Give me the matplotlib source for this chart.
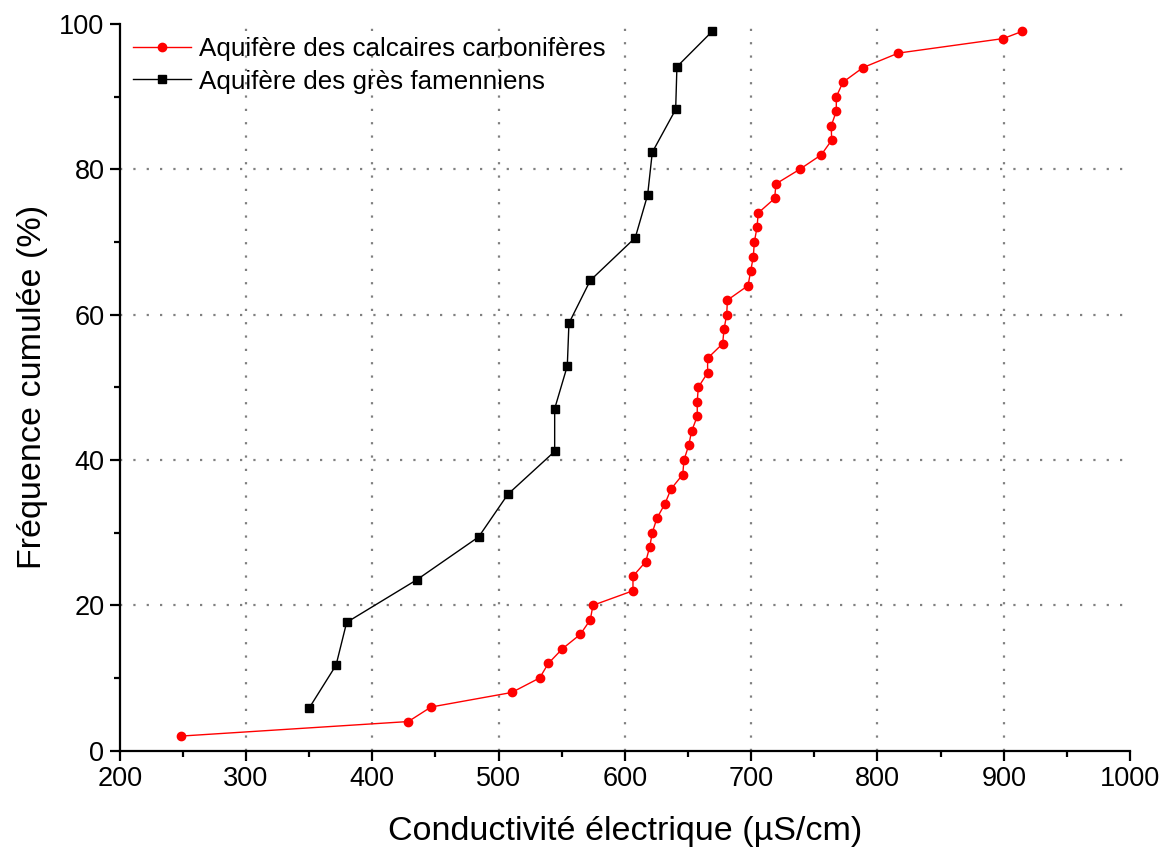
import numpy as np
import matplotlib
matplotlib.use("Agg")
import matplotlib.pyplot as plt
from matplotlib.ticker import MultipleLocator

plt.rcParams['font.family'] = ['Liberation Sans', 'DejaVu Sans']

# Aquifère des calcaires carbonifères
calc_x = [248.5, 428.5, 446.5, 510.4, 532.5, 539.4, 550.4, 564.7, 572.6, 574.7,
          606.4, 606.4, 616.5, 619.6, 621.7, 625.4, 631.8, 636.5, 645.8, 646.8,
          650.5, 652.9, 657.3, 657.3, 658.1, 665.5, 665.5, 677.4, 678.5, 680.6,
          681.2, 697.5, 699.6, 701.7, 702.5, 704.6, 705.6, 718.6, 719.6, 738.4,
          755.5, 763.7, 763.4, 767.4, 767.4, 772.7, 788.5, 816.5, 899.6, 914.7]
calc_y = [2, 4, 6, 8, 10, 12, 14, 16, 18, 20,
          22, 24, 26, 28, 30, 32, 34, 36, 38, 40,
          42, 44, 46, 48, 50, 52, 54, 56, 58, 60,
          62, 64, 66, 68, 70, 72, 74, 76, 78, 80,
          82, 84, 86, 88, 90, 92, 94, 96, 98, 99]

# Aquifère des grès famenniens
gres_x = [350.1, 371.3, 379.7, 435.4, 484.2, 507.4, 544.4, 544.4, 554.4,
          555.7, 572.6, 608.2, 618.0, 621.7, 640.2, 641.2, 669.2]
gres_y = [5.88, 11.76, 17.65, 23.53, 29.41, 35.29, 41.18, 47.06, 52.94,
          58.82, 64.71, 70.59, 76.47, 82.35, 88.24, 94.12, 99.0]

fig = plt.figure(figsize=(11.69, 8.52), dpi=100)
ax = fig.add_axes([0.1024, 0.119, 0.8643, 0.8528])

ax.plot(calc_x, calc_y, color='#ff0000', lw=1.0, marker='o', ms=6,
        label='Aquifère des calcaires carbonifères', zorder=3)
ax.plot(gres_x, gres_y, color='#000000', lw=1.0, marker='s', ms=5.5,
        label='Aquifère des grès famenniens', zorder=3)

ax.set_xlim(200, 1000)
ax.set_ylim(0, 100)
ax.xaxis.set_major_locator(MultipleLocator(100))
ax.xaxis.set_minor_locator(MultipleLocator(50))
ax.yaxis.set_major_locator(MultipleLocator(20))
ax.yaxis.set_minor_locator(MultipleLocator(10))

for t in [300, 400, 500, 600, 700, 800, 900]:
    ax.axvline(t, color='#808080', lw=1.6, ls=(0, (1, 5)), zorder=1)
for t in [20, 40, 60, 80]:
    ax.axhline(t, color='#808080', lw=1.6, ls=(0, (1, 5)), zorder=1)

ax.spines['top'].set_visible(False)
ax.spines['right'].set_visible(False)
ax.spines['left'].set_linewidth(1.6)
ax.spines['bottom'].set_linewidth(1.6)
ax.tick_params(which='major', direction='out', length=7, width=1.6,
               labelsize=19.5, pad=4)
ax.tick_params(which='minor', direction='out', length=4, width=1.6)

ax.set_xlabel('Conductivité électrique (µS/cm)', fontsize=24.5, labelpad=17)
ax.set_ylabel('Fréquence cumulée (%)', fontsize=24.5, labelpad=8)

ax.legend(loc='upper left', frameon=False, fontsize=18.7, handlelength=2.24,
          handletextpad=0.3, labelspacing=0.33, borderaxespad=0.1,
          bbox_to_anchor=(0.0, 1.0))

fig.savefig('out.png', dpi=100)
